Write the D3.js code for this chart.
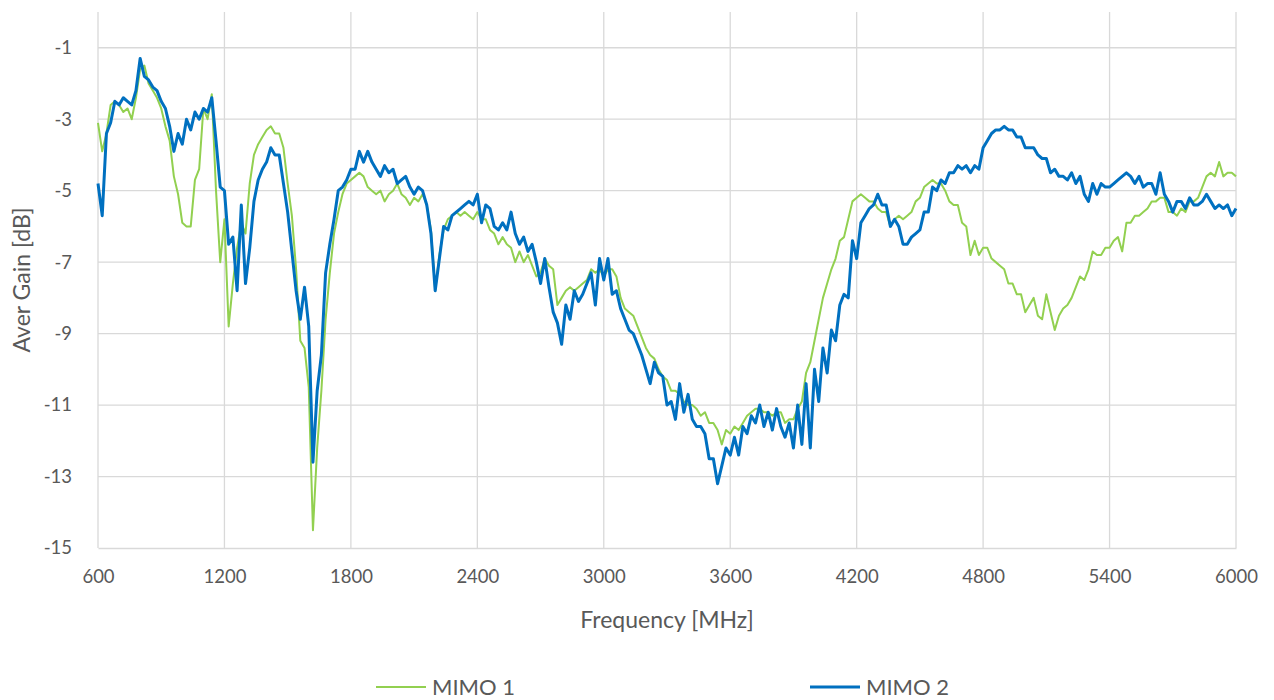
<!DOCTYPE html>
<html>
<head>
<meta charset="utf-8">
<script src="https://cdn.jsdelivr.net/npm/d3@7"></script>
<style>
  body { margin: 0; background: #fff; }
  text { font-family: Lato, "Open Sans", sans-serif; fill: #595959; }
</style>
</head>
<body>
<svg id="chart"></svg>
<script>
// sweep frequencies [MHz]
const freq = [
  600,620,640,660,680,700,720,740,760,780,800,820,840,860,880,900,920,940,960,980,
  1000,1020,1040,1060,1080,1100,1120,1140,1160,1180,1200,1220,1240,1260,1280,1300,1320,1340,1360,1380,
  1400,1420,1440,1460,1480,1500,1520,1540,1560,1580,1600,1620,1640,1660,1680,1700,1720,1740,1760,1780,
  1800,1820,1840,1860,1880,1900,1920,1940,1960,1980,2000,2020,2040,2060,2080,2100,2120,2140,2160,2180,
  2200,2220,2240,2260,2280,2300,2320,2340,2360,2380,2400,2420,2440,2460,2480,2500,2520,2540,2560,2580,
  2600,2620,2640,2660,2680,2700,2720,2740,2760,2780,2800,2820,2840,2860,2880,2900,2920,2940,2960,2980,
  3000,3020,3040,3060,3080,3100,3120,3140,3160,3180,3200,3220,3240,3260,3280,3300,3320,3340,3360,3380,
  3400,3420,3440,3460,3480,3500,3520,3540,3560,3580,3600,3620,3640,3660,3680,3700,3720,3740,3760,3780,
  3800,3820,3840,3860,3880,3900,3920,3940,3960,3980,4000,4020,4040,4060,4080,4100,4120,4140,4160,4180,
  4200,4220,4240,4260,4280,4300,4320,4340,4360,4380,4400,4420,4440,4460,4480,4500,4520,4540,4560,4580,
  4600,4620,4640,4660,4680,4700,4720,4740,4760,4780,4800,4820,4840,4860,4880,4900,4920,4940,4960,4980,
  5000,5020,5040,5060,5080,5100,5120,5140,5160,5180,5200,5220,5240,5260,5280,5300,5320,5340,5360,5380,
  5400,5420,5440,5460,5480,5500,5520,5540,5560,5580,5600,5620,5640,5660,5680,5700,5720,5740,5760,5780,
  5800,5820,5840,5860,5880,5900,5920,5940,5960,5980,6000
];

const mimo1 = [
  -3.1,-3.9,-3.4,-2.6,-2.5,-2.6,-2.8,-2.7,-3.0,-2.4,-1.6,-1.5,-2.0,-2.2,-2.4,-2.7,-3.2,-3.6,-4.6,-5.1,
  -5.9,-6.0,-6.0,-4.7,-4.4,-2.7,-3.0,-2.3,-5.0,-7.0,-5.8,-8.8,-7.6,-6.6,-5.9,-6.2,-4.8,-4.0,-3.7,-3.5,
  -3.3,-3.2,-3.4,-3.4,-3.8,-4.8,-5.7,-7.2,-9.2,-9.4,-10.5,-14.5,-12.2,-10.6,-8.6,-7.3,-6.2,-5.6,-5.1,-4.8,
  -4.7,-4.6,-4.5,-4.6,-4.9,-5.0,-5.1,-5.0,-5.3,-5.1,-5.0,-4.8,-5.1,-5.2,-5.4,-5.2,-5.3,-5.1,-5.4,-6.1,
  -7.8,-6.8,-6.1,-5.8,-5.7,-5.6,-5.7,-5.6,-5.7,-5.8,-5.6,-5.8,-5.8,-6.1,-6.2,-6.5,-6.3,-6.5,-6.6,-7.0,
  -6.7,-7.0,-6.8,-7.1,-7.4,-7.3,-6.9,-7.1,-7.2,-8.2,-8.0,-7.8,-7.7,-7.8,-7.7,-7.6,-7.5,-7.2,-7.3,-7.2,
  -7.4,-7.2,-7.2,-7.4,-8.0,-8.3,-8.4,-8.5,-8.8,-9.1,-9.4,-9.6,-9.7,-10.0,-10.2,-10.3,-10.6,-10.6,-10.7,-10.9,
  -11.0,-11.0,-11.1,-11.3,-11.2,-11.5,-11.5,-11.7,-12.1,-11.7,-11.8,-11.6,-11.7,-11.5,-11.3,-11.2,-11.1,-11.1,-11.2,-11.2,
  -11.3,-11.2,-11.2,-11.5,-11.4,-11.4,-11.1,-10.9,-10.1,-9.8,-9.2,-8.6,-8.0,-7.6,-7.2,-6.9,-6.4,-6.3,-5.8,-5.3,
  -5.2,-5.1,-5.2,-5.3,-5.3,-5.5,-5.6,-5.6,-6.0,-5.8,-5.7,-5.8,-5.7,-5.6,-5.3,-5.2,-4.9,-4.8,-4.7,-4.8,
  -4.8,-5.0,-5.3,-5.4,-5.4,-5.9,-6.0,-6.8,-6.4,-6.8,-6.6,-6.6,-6.9,-7.0,-7.1,-7.2,-7.6,-7.6,-7.9,-7.9,
  -8.4,-8.2,-8.0,-8.5,-8.6,-7.9,-8.4,-8.9,-8.5,-8.3,-8.2,-8.0,-7.7,-7.4,-7.5,-7.2,-6.7,-6.8,-6.8,-6.6,
  -6.6,-6.4,-6.3,-6.7,-5.9,-5.9,-5.7,-5.7,-5.6,-5.5,-5.3,-5.3,-5.2,-5.2,-5.6,-5.6,-5.7,-5.5,-5.6,-5.3,
  -5.3,-5.2,-4.9,-4.6,-4.5,-4.6,-4.2,-4.6,-4.5,-4.5,-4.6
];

const mimo2 = [
  -4.8,-5.7,-3.4,-3.1,-2.5,-2.6,-2.4,-2.5,-2.6,-2.2,-1.3,-1.8,-1.9,-2.1,-2.2,-2.5,-2.7,-3.2,-3.9,-3.4,
  -3.7,-3.0,-3.3,-2.8,-3.0,-2.7,-2.8,-2.4,-3.6,-4.9,-5.0,-6.5,-6.3,-7.8,-5.4,-7.6,-6.6,-5.3,-4.7,-4.4,
  -4.2,-3.8,-4.0,-4.0,-4.8,-5.6,-6.7,-7.8,-8.6,-7.7,-8.8,-12.6,-10.6,-9.6,-7.3,-6.5,-5.8,-5.0,-4.9,-4.7,
  -4.4,-4.4,-3.9,-4.2,-3.9,-4.2,-4.4,-4.6,-4.3,-4.5,-4.4,-4.8,-4.7,-4.6,-4.9,-5.1,-4.9,-5.0,-5.4,-6.2,
  -7.8,-6.9,-6.0,-6.1,-5.7,-5.6,-5.5,-5.4,-5.3,-5.4,-5.1,-5.9,-5.4,-5.5,-6.0,-6.1,-5.9,-6.1,-5.6,-6.2,
  -6.5,-6.3,-6.7,-6.5,-7.0,-7.6,-6.9,-7.7,-8.4,-8.7,-9.3,-8.2,-8.6,-7.8,-8.1,-7.9,-7.6,-7.3,-8.2,-6.9,
  -7.5,-6.9,-7.9,-7.8,-8.3,-8.6,-8.9,-9.0,-9.3,-9.6,-10.0,-10.4,-9.8,-10.1,-10.2,-11.0,-10.9,-11.4,-10.4,-11.2,
  -10.7,-11.4,-11.6,-11.6,-11.8,-12.5,-12.5,-13.2,-12.7,-12.2,-12.4,-11.9,-12.4,-11.6,-11.8,-11.3,-11.5,-11.0,-11.6,-11.2,
  -11.7,-11.1,-11.6,-11.9,-11.5,-12.2,-11.0,-12.1,-10.4,-12.2,-10.0,-10.9,-9.4,-10.1,-8.9,-9.2,-8.2,-7.9,-8.0,-6.4,
  -6.9,-5.9,-5.7,-5.5,-5.4,-5.1,-5.4,-5.4,-6.0,-5.8,-6.0,-6.5,-6.5,-6.3,-6.2,-6.1,-5.6,-5.6,-4.9,-5.0,
  -4.7,-4.8,-4.5,-4.5,-4.3,-4.4,-4.3,-4.5,-4.3,-4.4,-3.8,-3.6,-3.4,-3.3,-3.3,-3.2,-3.3,-3.3,-3.5,-3.5,
  -3.8,-3.8,-3.8,-4.0,-4.1,-4.1,-4.5,-4.4,-4.6,-4.6,-4.7,-4.5,-4.8,-4.6,-5.1,-5.3,-4.8,-5.1,-4.8,-4.9,
  -4.9,-4.8,-4.7,-4.6,-4.5,-4.6,-4.8,-4.6,-4.9,-4.8,-4.8,-5.1,-4.5,-5.1,-5.3,-5.6,-5.3,-5.3,-5.5,-5.2,
  -5.4,-5.4,-5.3,-5.1,-5.3,-5.5,-5.4,-5.5,-5.4,-5.7,-5.5
];

const xTicks = [600, 1200, 1800, 2400, 3000, 3600, 4200, 4800, 5400, 6000];
const yTicks = [-15, -13, -11, -9, -7, -5, -3, -1];

const series = [
  { name: "MIMO 1", values: mimo1, color: "#92d050", width: 2 },
  { name: "MIMO 2", values: mimo2, color: "#0070c0", width: 3 }
];

let width = 1274;
let height = 700;
let svg = d3.select("#chart")
            .attr("width", width)
            .attr("height", height);

const xScale = d3.scaleLinear()
  .domain([600, 6000])
  .range([98, 1236]);

const yScale = d3.scaleLinear()
  .domain([-15, 0])
  .range([548, 12]);

// gridlines
svg.append("g")
  .selectAll("line")
  .data(yTicks.filter(d => d !== -15))
  .enter()
  .append("line")
  .attr("x1", 98)
  .attr("x2", 1236)
  .attr("y1", d => yScale(d))
  .attr("y2", d => yScale(d))
  .attr("stroke", "#d9d9d9")
  .attr("stroke-width", 1.3);

svg.append("g")
  .selectAll("line")
  .data(xTicks)
  .enter()
  .append("line")
  .attr("x1", d => xScale(d))
  .attr("x2", d => xScale(d))
  .attr("y1", 12)
  .attr("y2", 548)
  .attr("stroke", "#d9d9d9")
  .attr("stroke-width", 1.3);

// axes (labels only, Excel style, plain hyphen minus)
const xAxis = svg.append("g")
  .attr("transform", `translate(0,548)`)
  .call(d3.axisBottom(xScale).tickValues(xTicks).tickSize(0).tickPadding(22).tickFormat(d => String(d)));
xAxis.select(".domain").attr("stroke", "#d9d9d9").attr("stroke-width", 1.3);
xAxis.selectAll("text").style("font-size", "18.5px").attr("fill", "#595959");

const yAxis = svg.append("g")
  .attr("transform", `translate(98,0)`)
  .call(d3.axisLeft(yScale).tickValues(yTicks).tickSize(0).tickPadding(26).tickFormat(d => String(d)));
yAxis.select(".domain").remove();
yAxis.selectAll("text").style("font-size", "18.5px").attr("fill", "#595959");

// curves
const line = d3.line()
  .x((d, i) => xScale(freq[i]))
  .y(d => yScale(d));

svg.append("g")
  .selectAll("path")
  .data(series)
  .enter()
  .append("path")
  .attr("d", d => line(d.values))
  .attr("fill", "none")
  .attr("stroke", d => d.color)
  .attr("stroke-width", d => d.width)
  .attr("stroke-linejoin", "round");

// axis titles
svg.append("text")
  .attr("x", 667)
  .attr("y", 628)
  .attr("text-anchor", "middle")
  .style("font-size", "23px")
  .text("Frequency [MHz]");

svg.append("text")
  .attr("transform", "translate(30,280) rotate(-90)")
  .attr("text-anchor", "middle")
  .style("font-size", "23px")
  .text("Aver Gain [dB]");

// legend
const legend = svg.append("g")
  .selectAll("g")
  .data(series)
  .enter()
  .append("g")
  .attr("transform", (d, i) => `translate(${376 + i * 434},687)`);

legend.append("line")
  .attr("x1", 0)
  .attr("x2", 50)
  .attr("stroke", d => d.color)
  .attr("stroke-width", d => d.width);

legend.append("text")
  .attr("x", 56)
  .attr("y", 8)
  .style("font-size", "22px")
  .text(d => d.name);
</script>
</body>
</html>
